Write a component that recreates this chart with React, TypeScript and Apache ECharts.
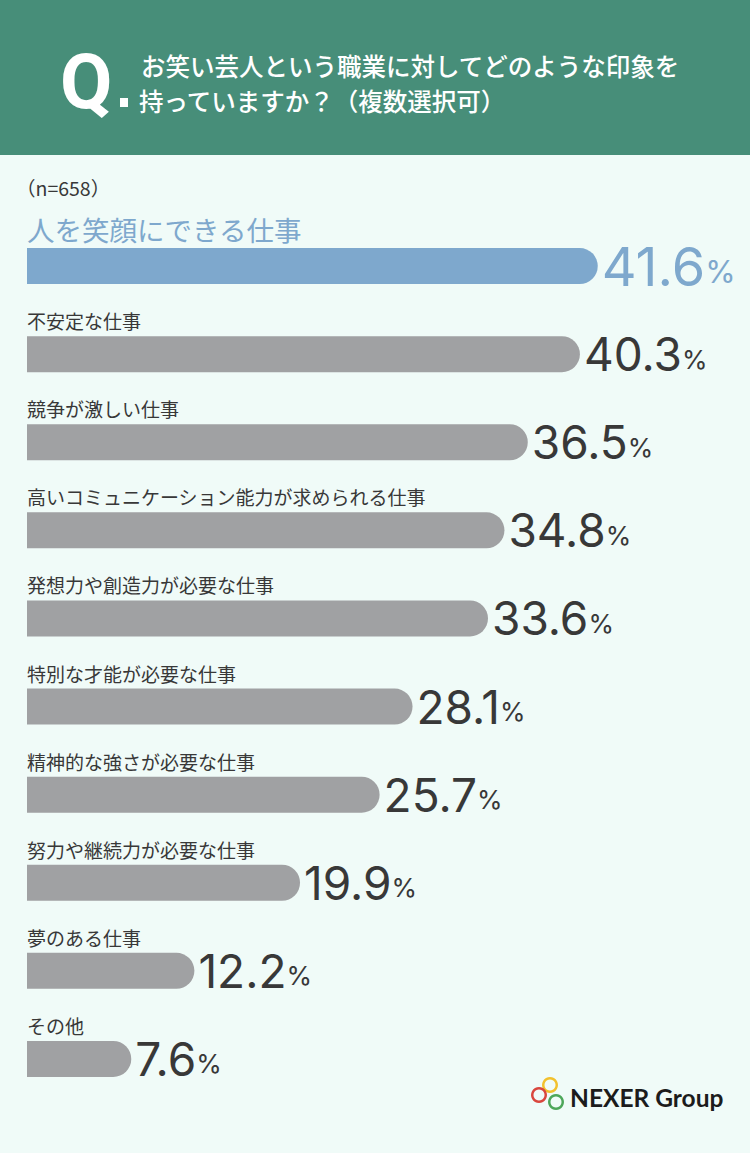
import React, { useEffect, useRef } from "react";
import * as echarts from "echarts";

const categories = [
  "人を笑顔にできる仕事",
  "不安定な仕事",
  "競争が激しい仕事",
  "高いコミュニケーション能力が求められる仕事",
  "発想力や創造力が必要な仕事",
  "特別な才能が必要な仕事",
  "精神的な強さが必要な仕事",
  "努力や継続力が必要な仕事",
  "夢のある仕事",
  "その他",
];
const values = [41.6, 40.3, 36.5, 34.8, 33.6, 28.1, 25.7, 19.9, 12.2, 7.6];

const titleLine1 = "お笑い芸人という職業に対してどのような印象を";
const titleLine2 = "持っていますか？（複数選択可）";
const sampleNote = "（n=658）";
const brand = "NEXER Group";

const BLUE = "#7ea8cd";
const GREY = "#a0a1a3";
const DARK = "#383838";
const BG = "#f0fbf8";
const HEADER = "#478e79";
const CJK = '"Noto Sans CJK JP", "Noto Sans", sans-serif';
const NUM = 'Inter, "Noto Sans", sans-serif';

export default function App() {
  const ref = useRef<HTMLDivElement>(null);
  useEffect(() => {
    document.body.style.margin = "0";
    document.body.style.background = BG;
    const chart = echarts.init(ref.current!, null, { renderer: "svg" });
    const option: any = {
      animation: false,
      backgroundColor: BG,
      grid: { left: 27, right: 37, top: 222, height: 881, containLabel: false },
      xAxis: { type: "value", min: 0, max: 50, show: false },
      yAxis: {
        type: "category",
        inverse: true,
        data: categories,
        show: false,
      },
      series: [
        {
          type: "bar",
          barWidth: 36,
          silent: true,
          data: values.map((v, i) => ({
            value: v,
            itemStyle: { color: i === 0 ? BLUE : GREY, borderRadius: [0, 18, 18, 0] },
            label:
              i === 0
                ? { position: [0, -33], fontSize: 27.5, color: BLUE }
                : { position: [0, -25], fontSize: 19, color: DARK },
          })),
          label: {
            show: true,
            formatter: (p: any) => p.name,
            fontFamily: CJK,
            fontWeight: 400,
          },
        },
        {
          type: "bar",
          barWidth: 36,
          barGap: "-100%",
          silent: true,
          itemStyle: { color: "rgba(0,0,0,0)" },
          data: values,
          label: {
            show: true,
            position: "right",
            distance: 4,
            formatter: (p: any) =>
              p.dataIndex === 0 ? `{a|${p.value}}{b|%}` : `{c|${p.value}}{d|%}`,
            rich: {
              a: { fontFamily: NUM, fontSize: 54, fontWeight: 400, color: BLUE, lineHeight: 54, verticalAlign: "bottom" },
              b: { fontFamily: NUM, fontSize: 31, fontWeight: 400, color: BLUE, lineHeight: 54, verticalAlign: "bottom", padding: [0, 0, 6, 0] },
              c: { fontFamily: NUM, fontSize: 46, fontWeight: 400, color: DARK, lineHeight: 46, verticalAlign: "bottom" },
              d: { fontFamily: NUM, fontSize: 26, fontWeight: 400, color: DARK, lineHeight: 46, verticalAlign: "bottom", padding: [0, 0, 5, 0] },
            },
          },
        },
      ],
      graphic: [
        { type: "rect", left: 0, top: 0, shape: { x: 0, y: 0, width: 750, height: 155 }, style: { fill: HEADER }, silent: true },
        {
          type: "text",
          x: 60,
          y: 82,
          style: { text: "Q", fill: "#ffffff", font: 'bold 76px Roboto, "Noto Sans", sans-serif', textVerticalAlign: "middle" },
        },
        { type: "rect", shape: { x: 120, y: 98, width: 8, height: 9 }, style: { fill: "#ffffff" } },
        {
          type: "text",
          x: 141,
          y: 65,
          style: { text: titleLine1, fill: "#ffffff", font: `500 24.5px ${CJK}`, textVerticalAlign: "middle" },
        },
        {
          type: "text",
          x: 139,
          y: 100,
          style: { text: titleLine2, fill: "#ffffff", font: `500 24.5px ${CJK}`, textVerticalAlign: "middle" },
        },
        {
          type: "text",
          x: 16,
          y: 187,
          style: { text: sampleNote, fill: DARK, font: `400 19.5px ${CJK}`, textVerticalAlign: "middle" },
        },
        { type: "ring", shape: { cx: 550, cy: 1085, r: 8, r0: 5.5 }, style: { fill: "#f2c12e" } },
        { type: "ring", shape: { cx: 539, cy: 1095, r: 8, r0: 5.5 }, style: { fill: "#d9473e" } },
        { type: "ring", shape: { cx: 556, cy: 1102, r: 8, r0: 5.5 }, style: { fill: "#4ea75a" } },
        {
          type: "text",
          x: 570,
          y: 1097,
          style: { text: brand, fill: "#1c1c1c", font: 'bold 24.5px Lato, "Noto Sans", sans-serif', textVerticalAlign: "middle" },
        },
      ],
    };
    chart.setOption(option);
    return () => chart.dispose();
  }, []);
  return (
    <div
      ref={ref}
      style={{ position: "absolute", left: 0, top: 0, width: 750, height: 1153 }}
    />
  );
}
